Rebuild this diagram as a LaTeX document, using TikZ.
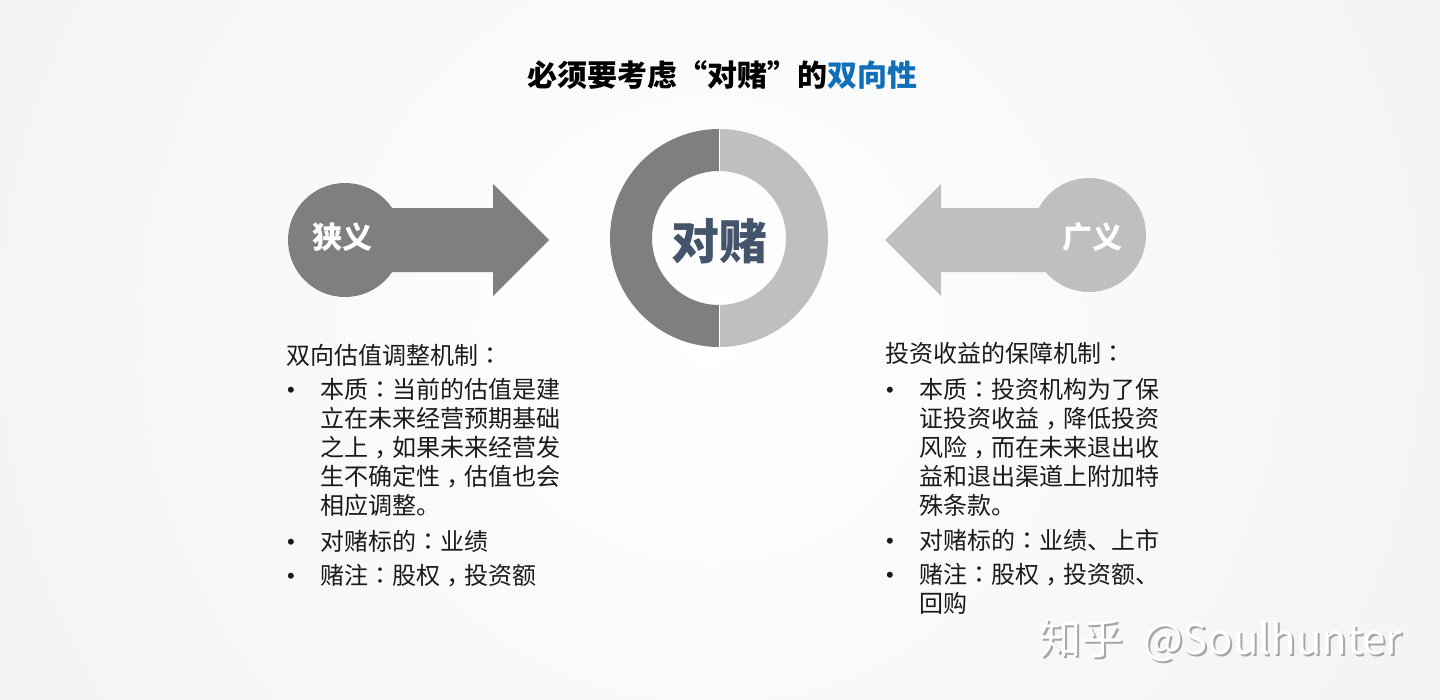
\documentclass[tikz,border=0pt]{standalone}
\usepackage{fontspec}
\setmainfont{Noto Sans CJK SC}
\newfontfamily\pct{Noto Sans CJK TC}
\newfontfamily\bulfont{Liberation Sans}
\newcommand{\cc}{{\pct ：}}
\newcommand{\cm}{\raisebox{-7pt}{\pct ，}}
\definecolor{darkg}{HTML}{7F7F7F}
\definecolor{lightg}{HTML}{BFBFBF}
\definecolor{bluet}{HTML}{0F6FB8}
\definecolor{slate}{HTML}{44546A}
\definecolor{bgedge}{HTML}{EEEFF1}
\definecolor{inktxt}{HTML}{1A1A1A}
\tikzset{
  body/.style={inner sep=0pt,outer sep=0pt,text=inktxt,align=left,anchor=north west,font=\fontsize{24pt}{29pt}\selectfont},
  bul/.style={inner sep=0pt,outer sep=0pt,text=inktxt,anchor=center,font=\bulfont\fontsize{22pt}{24pt}\selectfont},
  circlabel/.style={inner sep=0pt,text=white,font=\bfseries\fontsize{30pt}{32pt}\selectfont},
}
\begin{document}
\begin{tikzpicture}[x=1pt,y=-1pt]
\useasboundingbox (0,0) rectangle (1440,699);
\begin{scope}
\clip (0,0) rectangle (1440,699);
\shade[inner color=white,outer color=bgedge] (710,330) circle (1080);
\end{scope}
% title
\node[inner sep=0pt,font=\bfseries\fontsize{30pt}{32pt}\selectfont] (title) at (722.5,75) {必须要考虑“对赌”的\textcolor{bluet}{双向性}};
% donut
\fill[darkg] (719,129) arc (-90:-270:109) -- (719,305) arc (-270:-90:67) -- cycle;
\fill[lightg] (719,129) arc (-90:90:109) -- (719,305) arc (90:-90:67) -- cycle;
\draw[white,line width=0.8pt] (719,129) -- (719,172) (719,305) -- (719,347);
\node[inner sep=0pt,text=slate,font=\bfseries\fontsize{48pt}{50pt}\selectfont] (center) at (719.5,241) {对赌};
% left arrow
\fill[darkg] (345,240) circle (57);
\fill[darkg] (380,208) -- (493,208) -- (493,184) -- (549,240) -- (493,296) -- (493,272) -- (380,272) -- cycle;
\node[circlabel] (narrow) at (342.5,237) {狭义};
% right arrow
\fill[lightg] (1089,235) circle (57);
\fill[lightg] (1050,208) -- (941,208) -- (941,184) -- (885,240) -- (941,296) -- (941,272) -- (1050,272) -- cycle;
\node[circlabel] (broad) at (1092,237) {广义};
% left text
\node[body] (lh) at (286,344) {双向估值调整机制\cc};
\node[bul] (lb1) at (291,392) {•};
\node[body] (lt1) at (320,378) {本质\cc 当前的估值是建\\立在未来经营预期基础\\之上\cm 如果未来经营发\\生不确定性\cm 估值也会\\相应调整。};
\node[bul] (lb2) at (291,544) {•};
\node[body] (lt2) at (320,530) {对赌标的\cc 业绩};
\node[bul] (lb3) at (291,578) {•};
\node[body] (lt3) at (320,564) {赌注\cc 股权\cm 投资额};
% right text
\node[body] (rh) at (885,342) {投资收益的保障机制\cc};
\node[bul] (rb1) at (890,392) {•};
\node[body] (rt1) at (919,378) {本质\cc 投资机构为了保\\证投资收益\cm 降低投资\\风险\cm 而在未来退出收\\益和退出渠道上附加特\\殊条款。};
\node[bul] (rb2) at (890,543) {•};
\node[body] (rt2) at (919,529) {对赌标的\cc 业绩、上市};
\node[bul] (rb3) at (890,577) {•};
\node[body] (rt3) at (919,563) {赌注\cc 股权\cm 投资额、\\回购};
% watermark
\node[inner sep=0pt,anchor=west,text=black!35,font=\fontsize{42pt}{44pt}\selectfont] (wms) at (1041,642) {知乎\hspace{20pt}@Soulhunter};
\node[inner sep=0pt,anchor=west,text=white,font=\fontsize{42pt}{44pt}\selectfont] (wm) at (1039,640) {知乎\hspace{20pt}@Soulhunter};
\end{tikzpicture}
\end{document}
